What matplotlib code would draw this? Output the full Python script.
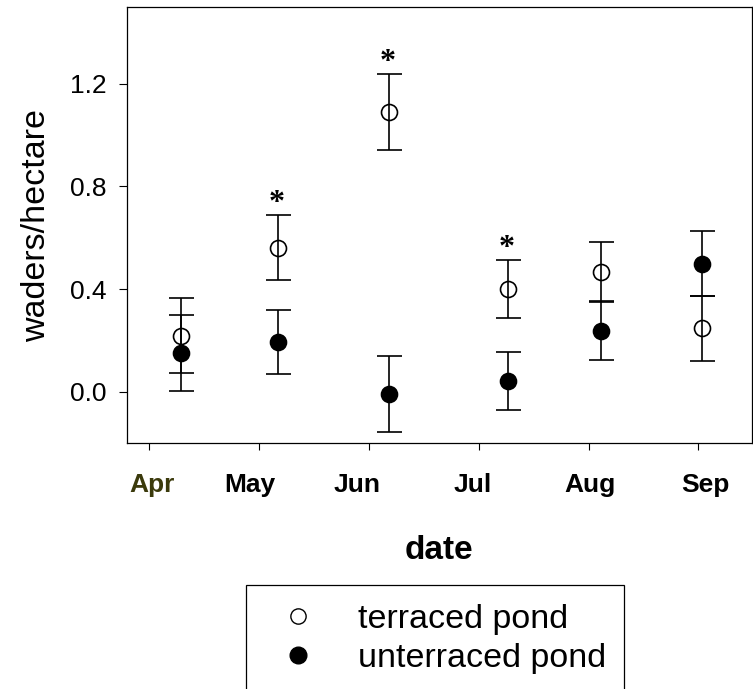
import matplotlib
matplotlib.use('Agg')
import matplotlib.pyplot as plt
from matplotlib.lines import Line2D

# data
months = ['Apr', 'May', 'Jun', 'Jul', 'Aug', 'Sep']
survey_pos = [0.29, 1.17, 2.18, 3.27, 4.11, 5.03]   # where the counts sit between month ticks
terraced = [0.219, 0.562, 1.091, 0.400, 0.467, 0.248]
terraced_se = [0.147, 0.126, 0.148, 0.114, 0.115, 0.126]
unterraced = [0.151, 0.194, -0.008, 0.043, 0.238, 0.500]
unterraced_se = [0.149, 0.125, 0.147, 0.114, 0.115, 0.127]
significant = [False, True, True, True, False, False]
yticks = [0.0, 0.4, 0.8, 1.2]

W, H = 753, 689
plt.rcParams['font.family'] = ['Liberation Sans', 'DejaVu Sans']

fig = plt.figure(figsize=(W / 100, H / 100), dpi=100)
ax = fig.add_axes([126.7 / W, 1 - 443.3 / H, (752 - 126.7) / W, (443.3 - 6.7) / H])

err_kw = dict(ls='none', marker='o', ms=11.5, mew=1.2, mec='black',
              ecolor='black', elinewidth=1.2, capsize=9, capthick=1.2)
ax.errorbar(survey_pos, unterraced, yerr=unterraced_se, mfc='black', zorder=3, **err_kw)
ax.errorbar(survey_pos, terraced, yerr=terraced_se, mfc='none', zorder=4, **err_kw)

# asterisks over the significant months
for x, y, e, s in zip(survey_pos, terraced, terraced_se, significant):
    if s:
        ax.annotate('*', xy=(x, y + e), xytext=(-1, 3), textcoords='offset points',
                    ha='center', va='baseline', fontsize=23, fontweight='bold',
                    family='Liberation Serif')

ax.set_xlim(-0.203, 5.487)
ax.set_ylim(-0.2, 1.5)
ax.set_yticks(yticks)
ax.set_yticklabels(['%.1f' % v for v in yticks], fontsize=19)
ax.set_xticks(range(len(months)))
ax.set_xticklabels([])

# month names, which are not centred on their ticks in the original
shift_px = [3, -9, -12, -6.5, 1, 6.5]
for i, (m, dx) in enumerate(zip(months, shift_px)):
    ax.annotate(m, xy=(i, 0), xycoords=ax.get_xaxis_transform(), xytext=(dx, -30),
                textcoords='offset pixels', ha='center', va='top', fontsize=19,
                fontweight='bold', color='#3b3a0c' if i == 0 else 'black')

ax.tick_params(axis='x', direction='out', length=4.8, width=0.8)
ax.tick_params(axis='y', direction='out', length=5.5, width=0.8, pad=9)
for sp in ax.spines.values():
    sp.set_linewidth(0.9)

ax.set_xlabel('date', fontsize=24, fontweight='bold')
ax.xaxis.set_label_coords(0.5, -0.21)
ax.set_ylabel('waders/hectare', fontsize=24.5)
ax.yaxis.set_label_coords(-0.1195, 0.5)

handles = [Line2D([], [], ls='none', marker='o', ms=11, mfc='none', mec='black', mew=1.0),
           Line2D([], [], ls='none', marker='o', ms=12, mfc='black', mec='black')]
leg = fig.legend(handles, ['terraced pond', 'unterraced pond'], loc='upper left',
                 bbox_to_anchor=(246 / W, 1 - 585.3 / H), borderaxespad=0,
                 fontsize=24.5, fancybox=False, framealpha=1, edgecolor='black',
                 borderpad=0.55, handlelength=1.95, handletextpad=0.78, labelspacing=0.23)
leg.get_frame().set_linewidth(0.9)

fig.savefig('out.png', dpi=100)
